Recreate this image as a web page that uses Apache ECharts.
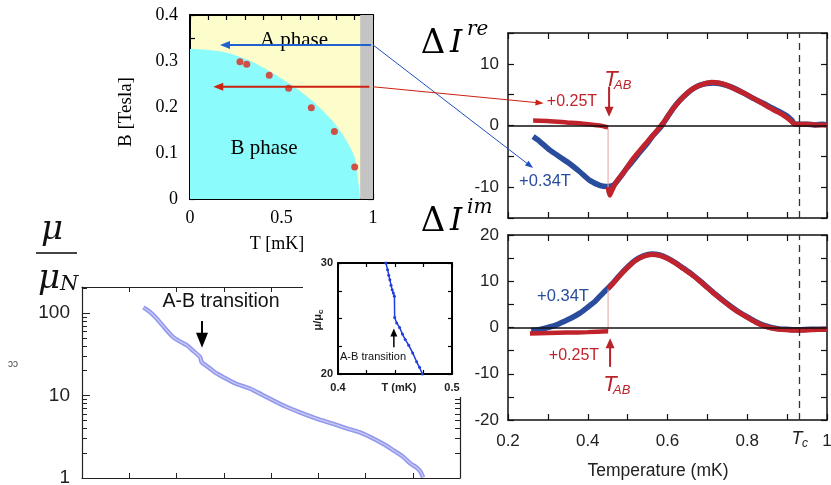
<!DOCTYPE html>
<html><head><meta charset="utf-8">
<script src="https://cdn.jsdelivr.net/npm/echarts@6/dist/echarts.min.js"></script>
<style>html,body{margin:0;padding:0;background:#fff}#c{width:831px;height:485px}</style>
</head><body><div id="c"></div>
<script>
// ---------------- DATA ----------------
// Phase diagram (T [mK], B [Tesla])
const phaseBoundary = [[0,0.326],[0.1,0.324],[0.2,0.318],[0.273,0.309],[0.35,0.296],[0.433,0.278],[0.539,0.2515],[0.6,0.235],[0.663,0.215],[0.73,0.19],[0.789,0.1645],[0.85,0.13],[0.9,0.09],[0.918,0.045],[0.93,0.0]];
const phaseDots = [[0.273,0.2985],[0.310,0.293],[0.433,0.269],[0.539,0.241],[0.663,0.1985],[0.789,0.147],[0.900,0.0696]];
const normalBand = [[0.93,0.4],[1.0,0.4]];
const phaseXTicks = ['0','0.5','1'];
const phaseYTicks = ['0','0.1','0.2','0.3','0.4'];
// Delta I re (Temperature mK, value)
const reBlue = [[0.263,-1.8],[0.28,-2.6],[0.305,-4.0],[0.33,-5.1],[0.355,-6.2],[0.38,-7.5],[0.405,-8.9],[0.43,-9.7],[0.447,-9.9],[0.464,-9.7],[0.48,-8.5],[0.497,-7.0],[0.515,-5.6],[0.531,-4.3],[0.548,-3.0],[0.564,-1.6],[0.58,-0.5],[0.589,0.3],[0.60,1.4],[0.614,2.75],[0.627,3.8],[0.64,4.65],[0.653,5.4],[0.665,6.0],[0.68,6.5],[0.698,6.8],[0.715,6.9],[0.73,6.8],[0.748,6.5],[0.765,6.1],[0.79,5.3],[0.815,4.4],[0.84,3.6],[0.865,2.75],[0.882,2.2],[0.898,1.6],[0.911,0.9],[0.918,0.3],[0.93,0.2],[0.95,0.2],[0.97,0.1],[0.99,0.2],[1.0,0.1]];
const reRedLow = [[0.263,0.8],[0.305,0.7],[0.347,0.5],[0.389,0.3],[0.43,0.0],[0.451,-0.3]];
const reRedHigh = [[0.451,-10.0],[0.455,-11.3],[0.46,-10.6],[0.47,-9.3],[0.49,-7.6],[0.51,-5.7],[0.53,-4.1],[0.55,-2.6],[0.57,-1.1],[0.59,0.5],[0.61,2.4],[0.63,4.0],[0.65,5.3],[0.67,6.2],[0.69,6.7],[0.71,7.0],[0.73,6.9],[0.75,6.5],[0.77,5.9],[0.79,5.3],[0.81,4.6],[0.83,3.9],[0.85,3.1],[0.87,2.4],[0.89,1.7],[0.905,1.0],[0.915,0.4],[0.925,0.2],[0.95,0.2],[0.97,0.1],[1.0,0.1]];
// Delta I im
const imBlue = [[0.258,-0.6],[0.28,-0.4],[0.30,0.0],[0.32,0.5],[0.34,1.3],[0.36,2.1],[0.38,3.1],[0.40,4.4],[0.42,5.8],[0.44,7.6],[0.46,9.3],[0.48,11.3],[0.50,13.1],[0.52,14.6],[0.54,15.5],[0.56,15.9],[0.58,15.7],[0.60,15.0],[0.62,14.0],[0.64,12.8],[0.66,11.6],[0.68,10.2],[0.70,8.7],[0.72,7.2],[0.74,5.8],[0.76,4.5],[0.78,3.3],[0.80,2.3],[0.82,1.3],[0.84,0.5],[0.86,0.0],[0.88,-0.3],[0.90,-0.4],[0.93,-0.5],[0.96,-0.4],[1.0,-0.4]];
const imRedLow = [[0.255,-1.3],[0.30,-1.2],[0.35,-1.1],[0.40,-1.0],[0.451,-0.8]];
const imRedHigh = [[0.451,8.4],[0.46,9.2],[0.48,11.2],[0.50,13.0],[0.52,14.5],[0.54,15.4],[0.56,15.8],[0.58,15.6],[0.60,14.9],[0.62,13.9],[0.64,12.7],[0.66,11.5],[0.68,10.1],[0.70,8.6],[0.72,7.1],[0.74,5.7],[0.76,4.4],[0.78,3.2],[0.80,2.2],[0.82,1.2],[0.84,0.4],[0.86,-0.1],[0.88,-0.4],[0.90,-0.5],[0.93,-0.6],[0.96,-0.5],[1.0,-0.4]];
const T_AB = 0.451, T_C = 0.927;
// mu / mu_N (log)
const muRatio = [[1.30,117],[1.42,105],[1.58,86],[1.75,66],[1.93,51],[2.08,45],[2.22,40.7],[2.36,34.5],[2.50,29.3],[2.53,25.5],[2.70,21.5],[2.85,18.5],[2.99,16.7],[3.25,14.0],[3.56,12.1],[3.80,10.3],[4.05,8.7],[4.30,7.4],[4.61,6.26],[4.95,5.3],[5.32,4.52],[5.60,4.0],[5.88,3.57],[6.12,3.1],[6.38,2.58],[6.60,2.15],[6.80,1.8],[6.95,1.5],[7.08,1.34],[7.16,1.2],[7.22,1.02]];
const logMajor = [1,10,100];
const logMinor = [2,3,4,5,6,7,8,9,20,30,40,50,60,70,80,90,200];
// inset mu/mu_c vs T
const insetData = [[0.442,30.0],[0.4435,29.4],[0.4445,28.9],[0.4455,28.5],[0.4465,28.0],[0.4475,27.6],[0.4485,27.3],[0.4495,27.0],[0.4497,25.1],[0.4515,24.6],[0.454,24.2],[0.4565,23.6],[0.459,23.1],[0.462,22.6],[0.4655,21.9],[0.469,21.1],[0.4715,20.6],[0.474,20.0]];

// ---------------- STYLE ----------------
const SERIF = 'Liberation Serif', SANS = 'Liberation Sans', DSERIF = 'DejaVu Serif';
const RED = '#c0232b', BLUE = '#2a4c9c', LRED = '#b8232a';

function ax(grid, pos, o) {
  return Object.assign({
    gridIndex: grid, type: 'value', position: pos,
    splitLine: {show: false},
    axisLine: {show: true, onZero: false, lineStyle: {color: '#111', width: 1.5}},
    axisTick: {show: true, inside: true, length: 5, lineStyle: {color: '#111', width: 1.2}},
    axisLabel: {show: false}
  }, o);
}
const near = (a, b) => Math.abs(a - b) < 1e-6;

const L1 = {show: true, onZero: false, lineStyle: {color: '#000', width: 2}};
const T1 = {show: true, inside: true, length: 5, lineStyle: {color: '#000', width: 1.2}};
const T6 = {show: true, inside: true, length: 6, lineStyle: {color: '#111', width: 1.2}};

const xAxis = [
  ax(0, 'bottom', {min: 0, max: 1, interval: 0.1, axisLine: L1, axisTick: T1,
    axisLabel: {show: true, margin: 10, color: '#000', fontFamily: SERIF, fontSize: 18,
      formatter: v => { const r = Math.round(v * 10); return r === 0 ? phaseXTicks[0] : r === 5 ? phaseXTicks[1] : r === 10 ? phaseXTicks[2] : ''; }}}),
  ax(0, 'top', {min: 0, max: 1, interval: 0.1, axisLine: L1, axisTick: T1}),
  ax(1, 'bottom', {min: 0.2, max: 1, interval: 0.1, axisTick: T6}),
  ax(1, 'top', {min: 0.2, max: 1, interval: 0.1, axisTick: T6}),
  ax(2, 'bottom', {min: 0.2, max: 1, interval: 0.1, axisTick: T6,
    axisLabel: {show: true, margin: 13, color: '#222', fontFamily: SANS, fontSize: 17,
      formatter: v => { const r = Math.round(v * 10); if (r === 10) return '1'; return (r % 2 === 0) ? (r / 10).toFixed(1) : ''; }}}),
  ax(2, 'top', {min: 0.2, max: 1, interval: 0.1, axisTick: T6}),
  ax(3, 'bottom', {min: 0, max: 8, interval: 1, axisLine: {show: true, onZero: false, lineStyle: {color: '#222', width: 1.2}}, axisTick: {show: true, inside: true, length: 5, lineStyle: {color: '#222', width: 1}}}),
  ax(3, 'top', {min: 0, max: 8, interval: 1, axisLine: {show: true, onZero: false, lineStyle: {color: '#222', width: 1.2}}, axisTick: {show: true, inside: true, length: 5, lineStyle: {color: '#222', width: 1}}}),
  ax(4, 'bottom', {z: 10, min: 0.4, max: 0.5, interval: 0.025, axisLine: L1, axisTick: {show: true, inside: true, length: 4, lineStyle: {color: '#000', width: 1.2}},
    axisLabel: {show: true, margin: 8, color: '#222', fontFamily: SANS, fontSize: 11, fontWeight: 'bold',
      formatter: v => near(v, 0.4) ? '0.4' : near(v, 0.5) ? '0.5' : ''}}),
  ax(4, 'top', {z: 10, min: 0.4, max: 0.5, interval: 0.025, axisLine: L1, axisTick: {show: true, inside: true, length: 4, lineStyle: {color: '#000', width: 1.2}}})
];
const yAxis = [
  ax(0, 'left', {min: 0, max: 0.4, interval: 0.05, axisLine: L1, axisTick: T1,
    axisLabel: {show: true, margin: 12, color: '#000', fontFamily: SERIF, fontSize: 18,
      formatter: v => { const r = Math.round(v * 20); return r % 2 === 0 ? phaseYTicks[r / 2] : ''; }}}),
  ax(0, 'right', {min: 0, max: 0.4, interval: 0.05, axisLine: L1, axisTick: T1}),
  ax(1, 'left', {min: -15, max: 15, interval: 5, axisTick: T6,
    axisLabel: {show: true, margin: 9, color: '#222', fontFamily: SANS, fontSize: 17, formatter: v => (Math.round(v) % 10 === 0) ? String(Math.round(v)) : ''}}),
  ax(1, 'right', {min: -15, max: 15, interval: 5, axisTick: T6}),
  ax(2, 'left', {min: -20, max: 20, interval: 5, axisTick: T6,
    axisLabel: {show: true, margin: 9, color: '#222', fontFamily: SANS, fontSize: 17, formatter: v => (Math.round(v) % 10 === 0) ? String(Math.round(v)) : ''}}),
  ax(2, 'right', {min: -20, max: 20, interval: 5, axisTick: T6}),
  ax(3, 'left', {type: 'log', logBase: 10, min: 1, max: 207, splitNumber: 2,
    axisLine: {show: true, onZero: false, lineStyle: {color: '#222', width: 1.2}},
    axisTick: {show: true, inside: true, length: 5, customValues: logMajor.concat(logMinor), lineStyle: {color: '#222', width: 1}},
    axisLabel: {show: true, margin: 12, color: '#222', fontFamily: SANS, fontSize: 19, customValues: logMajor,
      formatter: v => logMajor.some(m => Math.abs(v - m) < 1e-6) ? String(Math.round(v)) : ''}}),
  ax(3, 'right', {type: 'log', logBase: 10, min: 1, max: 207, splitNumber: 2,
    axisLine: {show: true, onZero: false, lineStyle: {color: '#222', width: 1.2}},
    axisTick: {show: true, inside: true, length: 5, customValues: logMajor.concat(logMinor), lineStyle: {color: '#222', width: 1}}}),
  ax(3, 'left', {type: 'log', logBase: 10, min: 1, max: 207, splitNumber: 2,
    axisLine: {show: false},
    axisTick: {show: true, inside: true, length: 8, customValues: logMajor, lineStyle: {color: '#222', width: 1}}}),
  ax(4, 'left', {z: 10, min: 20, max: 30, interval: 2.5, axisLine: L1, axisTick: {show: true, inside: true, length: 4, lineStyle: {color: '#000', width: 1.2}},
    axisLabel: {show: true, margin: 5, color: '#222', fontFamily: SANS, fontSize: 11, fontWeight: 'bold',
      formatter: v => near(v, 20) ? '20' : near(v, 30) ? '30' : ''}}),
  ax(4, 'right', {z: 10, min: 20, max: 30, interval: 2.5, axisLine: L1, axisTick: {show: true, inside: true, length: 4, lineStyle: {color: '#000', width: 1.2}}})
];

const G = o => Object.assign({containLabel: false, outerBoundsMode: 'none'}, o);
const grid = [
  G({left: 190, top: 15, width: 183, height: 184, show: true, backgroundColor: '#fdfdcb', borderWidth: 0, borderColor: 'transparent'}),
  G({left: 508, top: 33, width: 319, height: 185}),
  G({left: 508, top: 235, width: 319, height: 185}),
  G({left: 82, top: 287, width: 378, height: 191}),
  G({left: 338, top: 263, width: 114, height: 111, z: 10})
];

function lineS(data, xi, yi, color, width, z, extra) {
  return Object.assign({type: 'line', data, xAxisIndex: xi, yAxisIndex: yi, showSymbol: false, symbol: 'none',
    smooth: 0.25, lineStyle: {color, width}, z, silent: true}, extra || {});
}
const refLines = (xi, yi) => ({type: 'line', data: [[T_C, 0]], xAxisIndex: xi, yAxisIndex: yi, showSymbol: false, symbol: 'none',
  lineStyle: {width: 0}, z: 6, silent: true,
  markLine: {silent: true, symbol: ['none', 'none'], label: {show: false}, animation: false,
    data: [
      {yAxis: 0, lineStyle: {color: '#111', width: 1.5, type: 'solid'}},
      {xAxis: T_C, lineStyle: {color: '#333', width: 1.3, type: [7, 5]}}
    ]}});

const series = [
  // 0 normal region (gray)
  lineS(normalBand, 0, 0, '#c4c4c4', 0, 1, {smooth: false, areaStyle: {color: '#c4c4c4', opacity: 1}}),
  // 1 B phase region
  lineS(phaseBoundary, 0, 0, '#8cfbfb', 0, 1, {smooth: 0.35, areaStyle: {color: '#8cfbfb', opacity: 1}}),
  // 2 dots
  {type: 'scatter', data: phaseDots, xAxisIndex: 0, yAxisIndex: 0, symbolSize: 7, itemStyle: {color: '#e0251a'}, z: 4, silent: true},
  // 3.. Delta I re
  lineS(reBlue, 2, 2, BLUE, 5.5, 3),
  lineS(reRedLow, 2, 2, RED, 4.5, 4),
  lineS(reRedHigh, 2, 2, RED, 5, 4),
  lineS([[T_AB, -0.3], [T_AB, -10.0]], 2, 2, '#e8a0a0', 1, 3, {smooth: false}),
  refLines(2, 2),
  // 8.. Delta I im
  lineS(imBlue, 4, 4, BLUE, 5.5, 3),
  lineS(imRedLow, 4, 4, RED, 4.5, 4),
  lineS(imRedHigh, 4, 4, RED, 5, 4),
  lineS([[T_AB, -0.8], [T_AB, 8.4]], 4, 4, '#e8a0a0', 1, 3, {smooth: false}),
  refLines(4, 4),
  // 13 mu/muN (outer band)
  lineS(muRatio, 6, 6, '#9499ec', 4.5, 2, {smooth: 0.2}),
  // 14 inset
  {type: 'line', data: insetData, xAxisIndex: 8, yAxisIndex: 9, symbol: 'circle', symbolSize: 3, showSymbol: true,
    lineStyle: {color: '#1f3de0', width: 1.5}, itemStyle: {color: '#1f3de0'}, z: 11, silent: true},
  // 15 core of mu/muN band
  lineS(muRatio, 6, 6, '#c9cbf5', 1.3, 3, {smooth: 0.2})
];

const chart = echarts.init(document.getElementById('c'), null, {width: 831, height: 485});
chart.setOption({animation: false, backgroundColor: '#fff', grid, xAxis, yAxis, series});

// ---------------- ANNOTATIONS ----------------
const P = (si, pt) => chart.convertToPixel({seriesIndex: si}, pt);
function arrow(p, q, color, width, headLen, headHalf, z) {
  const dx = q[0] - p[0], dy = q[1] - p[1], L = Math.hypot(dx, dy), ux = dx / L, uy = dy / L;
  const bx = q[0] - ux * headLen, by = q[1] - uy * headLen, nx = -uy, ny = ux;
  return [
    {type: 'line', silent: true, z, shape: {x1: p[0], y1: p[1], x2: bx + ux, y2: by + uy}, style: {stroke: color, lineWidth: width}},
    {type: 'polygon', silent: true, z, shape: {points: [[q[0], q[1]], [bx + nx * headHalf, by + ny * headHalf], [bx - nx * headHalf, by - ny * headHalf]]}, style: {fill: color}}
  ];
}
function txt(text, x, y, o) {
  const s = Object.assign({text, fill: '#000', fontFamily: SANS, fontSize: 16, align: 'center', verticalAlign: 'middle'}, o.style || {});
  s.textAlign = s.align; s.textVerticalAlign = s.verticalAlign;
  return {type: 'text', silent: true, x, y, rotation: o.rotation || 0, z: o.z || 50, style: s};
}
const it = (fam, size, color) => ({fontFamily: fam, fontStyle: 'italic', fontSize: size, fill: color || '#000'});

const els = [];
// white patch behind inset
els.push({type: 'rect', silent: true, z: 5, shape: {x: 303, y: 248, width: 170, height: 149}, style: {fill: '#fff'}});
// phase diagram labels
els.push(txt('A phase', 294, 40, {style: {fontFamily: SERIF, fontSize: 21}, z: 20}));
els.push(txt('B phase', 264, 148, {style: {fontFamily: SERIF, fontSize: 21}, z: 20}));
els.push(txt('B [Tesla]', 126, 112, {rotation: Math.PI / 2, style: {fontFamily: SERIF, fontSize: 19}}));
els.push(txt('T [mK]', 277, 244, {style: {fontFamily: SERIF, fontSize: 18}}));
// phase diagram arrows
els.push(...arrow(P(1, [0.99, 0.335]), P(1, [0.164, 0.335]), '#2060d0', 2, 10, 4, 30));
els.push(...arrow(P(1, [0.98, 0.244]), P(1, [0.127, 0.244]), '#cc2211', 2, 10, 4, 30));
// connecting lines
els.push(...arrow(P(1, [1.0, 0.335]), P(3, [0.263, -6.9]), '#2050c0', 1, 8, 3, 30));
els.push(...arrow(P(1, [1.0, 0.244]), P(3, [0.289, 3.6]), '#cc2010', 1, 8, 3, 30));
// Delta I titles
const title = (y0, sup) => {
  els.push(txt('Δ', 433, y0, {style: {fontFamily: DSERIF, fontSize: 34, fontWeight: 'normal'}}));
  els.push(txt('I', 456, y0, {style: it(DSERIF, 31)}));
  els.push(txt(sup, 467, y0 - 14, {style: Object.assign(it(DSERIF, 20), {align: 'left'})}));
};
title(44, 're');
title(222, 'im');
// series labels
els.push(txt('+0.25T', 572, 102, {style: {fill: RED, fontSize: 16}}));
els.push(txt('+0.34T', 545, 181, {style: {fill: BLUE, fontSize: 16.5}}));
els.push(txt('+0.34T', 563, 296, {style: {fill: BLUE, fontSize: 16.5}}));
els.push(txt('+0.25T', 574, 356, {style: {fill: RED, fontSize: 16}}));
// T_AB arrows + labels
const a1t = P(3, [T_AB, 6.3]), a1h = P(3, [T_AB, 1.4]);
els.push(...arrow([a1t[0] + 1, a1t[1]], [a1h[0] + 1, a1h[1]], LRED, 2, 10, 4.5, 30));
els.push(txt('T', 611, 80, {style: {fill: LRED, fontSize: 22, fontStyle: 'italic'}}));
els.push(txt('AB', 614, 85, {style: {fill: LRED, fontSize: 13, fontStyle: 'italic', align: 'left'}}));
const a2t = P(8, [T_AB, -8.5]), a2h = P(8, [T_AB, -2.3]);
els.push(...arrow([a2t[0] + 2, a2t[1]], [a2h[0] + 2, a2h[1]], LRED, 2, 10, 4.5, 30));
els.push(txt('T', 610, 385, {style: {fill: LRED, fontSize: 22, fontStyle: 'italic'}}));
els.push(txt('AB', 613, 390, {style: {fill: LRED, fontSize: 13, fontStyle: 'italic', align: 'left'}}));
// Tc label and axis title
const tc = P(8, [T_C, -20]);
els.push(txt('T', tc[0] - 1, 439, {style: {fill: '#222', fontSize: 18, fontStyle: 'italic'}}));
els.push(txt('c', tc[0] + 4, 444, {style: {fill: '#222', fontSize: 12, fontStyle: 'italic', align: 'left'}}));
els.push(txt('Temperature (mK)', 658, 471, {style: {fill: '#222', fontSize: 17.5}}));
// mu/muN fraction
els.push(txt('μ', 52, 230, {style: it(DSERIF, 34, '#111')}));
els.push({type: 'line', silent: true, z: 50, shape: {x1: 36, y1: 253, x2: 77, y2: 253}, style: {stroke: '#444', lineWidth: 2}});
els.push(txt('μ', 49, 279, {style: it(DSERIF, 34, '#111')}));
els.push(txt('N', 60, 285, {style: Object.assign(it(DSERIF, 21, '#111'), {align: 'left'})}));
els.push(txt('ɔɔ', 13, 364, {style: {fill: '#444', fontSize: 10}}));
// A-B transition (main)
els.push(txt('A-B transition', 221, 302, {style: {fill: '#111', fontSize: 19.5}}));
const ab1 = P(13, [2.54, 80]), ab2 = P(13, [2.54, 38]);
els.push(...arrow(ab1, ab2, '#000', 2, 15, 6, 30));
// inset labels
els.push(txt('T (mK)', 399, 388, {z: 60, style: {fill: '#222', fontSize: 11, fontWeight: 'bold'}}));
els.push({type: 'text', silent: true, x: 318, y: 320, rotation: Math.PI / 2, z: 60,
  style: {text: '{a|μ/μ}{b|c}', align: 'center', textAlign: 'center', verticalAlign: 'middle', textVerticalAlign: 'middle',
    rich: {a: {fontFamily: SANS, fontSize: 11, fontWeight: 'bold', fill: '#222'}, b: {fontFamily: SANS, fontSize: 8, fontWeight: 'bold', fill: '#222', verticalAlign: 'bottom', padding: [6, 0, 0, 0]}}}});
els.push(txt('A-B transition', 373, 357, {z: 60, style: {fill: '#111', fontSize: 11}}));
const ib1 = P(14, [0.449, 22.4]), ib2 = P(14, [0.449, 24.1]);
els.push(...arrow(ib1, ib2, '#000', 1.5, 8, 3.5, 60));

chart.setOption({graphic: {elements: els}});
</script></body></html>
